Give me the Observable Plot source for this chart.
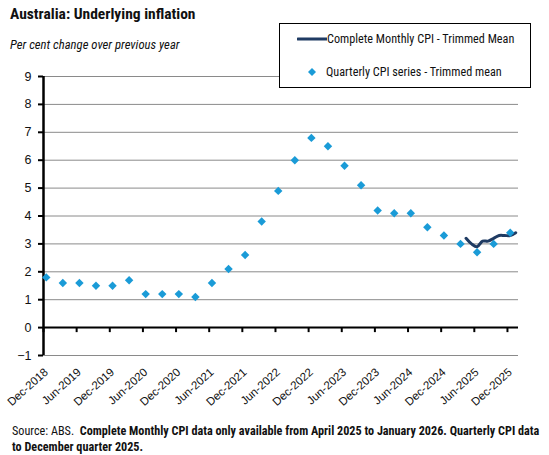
<!DOCTYPE html>
<html>
<head>
<meta charset="utf-8">
<script src="https://cdn.jsdelivr.net/npm/d3@7"></script>
<script src="https://cdn.jsdelivr.net/npm/@observablehq/plot@0.6"></script>
<style>
  html, body { margin: 0; padding: 0; background: #fff; }
  #wrap { position: relative; width: 549px; height: 455px; overflow: hidden; background:#fff; }
  .narrow { font-family: "Liberation Sans Narrow", "Arial Narrow", "Roboto Condensed", "Liberation Sans", sans-serif; }
  #title { position: absolute; left: 10px; top: 5px; font-size: 15.5px; font-weight: bold; color: #111; }
  #subtitle { position: absolute; left: 10px; top: 37px; font-size: 12.7px; font-style: italic; color: #111; }
  #chart { position: absolute; left: 0; top: 60px; }
  #legend { position: absolute; left: 279px; top: 23px; width: 250px; height: 63px; border: 1px solid #000; background: #fff; font-size: 12.2px; color: #111; }
  #legend .row { position: absolute; left: 0; display: flex; align-items: center; }
  .foot { position: absolute; left: 12px; font-size: 12.2px; line-height: 16px; color: #111; white-space: nowrap; }
</style>
</head>
<body>
<div id="wrap">
  <div id="chart"></div>
  <div id="title" class="narrow">Australia: Underlying inflation</div>
  <div id="subtitle" class="narrow">Per cent change over previous year</div>
  <div id="legend" class="narrow">
    <div class="row" style="top:7px;left:17px;"><svg width="30" height="16"><line x1="1" y1="8" x2="30" y2="8" stroke="#1f3b63" stroke-width="3" stroke-linecap="round"/></svg><span>Complete Monthly CPI - Trimmed Mean</span></div>
    <div class="row" style="top:40px;left:26px;"><svg width="20" height="16"><path d="M6,4 L10,8 L6,12 L2,8 Z" fill="#1a9bd7"/></svg><span>Quarterly CPI series - Trimmed mean</span></div>
  </div>
  <div class="foot narrow" style="top:423px;">Source: ABS.&nbsp; <b>Complete Monthly CPI data only available from April 2025 to January 2026. Quarterly CPI data</b></div>
  <div class="foot narrow" style="top:439px;"><b>to December quarter 2025.</b></div>
</div>
<script>
const quarters = ["Dec-2018","Mar-2019","Jun-2019","Sep-2019","Dec-2019","Mar-2020","Jun-2020","Sep-2020","Dec-2020","Mar-2021","Jun-2021","Sep-2021","Dec-2021","Mar-2022","Jun-2022","Sep-2022","Dec-2022","Mar-2023","Jun-2023","Sep-2023","Dec-2023","Mar-2024","Jun-2024","Sep-2024","Dec-2024","Mar-2025","Jun-2025","Sep-2025","Dec-2025"];
const quarterlyTrimmedMean = [1.8,1.6,1.6,1.5,1.5,1.7,1.2,1.2,1.2,1.1,1.6,2.1,2.6,3.8,4.9,6.0,6.8,6.5,5.8,5.1,4.2,4.1,4.1,3.6,3.3,3.0,2.7,3.0,3.4];
const months = ["Apr-2025","May-2025","Jun-2025","Jul-2025","Aug-2025","Sep-2025","Oct-2025","Nov-2025","Dec-2025","Jan-2026"];
const monthlyTrimmedMean = [3.2,3.0,2.9,3.1,3.1,3.2,3.3,3.3,3.3,3.4];
const xTickLabels = ["Dec-2018","Jun-2019","Dec-2019","Jun-2020","Dec-2020","Jun-2021","Dec-2021","Jun-2022","Dec-2022","Jun-2023","Dec-2023","Jun-2024","Dec-2024","Jun-2025","Dec-2025"];
const yTicks = [-1,0,1,2,3,4,5,6,7,8,9];

const parse = d3.utcParse("%b-%Y");
const origin = parse("Dec-2018");
const idx = s => d3.utcMonth.count(origin, parse(s));
const lastMonth = idx(months[months.length - 1]);

const qData = quarters.map((q, i) => ({x: idx(q), v: quarterlyTrimmedMean[i]}));
const mData = months.map((m, i) => ({x: idx(m), v: monthlyTrimmedMean[i]}));
const tickPos = xTickLabels.map(s => idx(s) - 0.5);
const labelPos = xTickLabels.map(s => idx(s));
const labelMap = new Map(labelPos.map((p, i) => [p, xTickLabels[i]]));

const chart = Plot.plot({
  width: 549,
  height: 360,
  marginTop: 16,
  marginBottom: 65,
  marginLeft: 43,
  marginRight: 31,
  style: {fontFamily: "'Liberation Sans', Arial, sans-serif", fontSize: "12px", color: "#111", background: "transparent", overflow: "visible"},
  x: {type: "linear", domain: [-0.5, lastMonth + 0.5], label: null},
  y: {domain: [-1, 9], label: null},
  marks: [
    Plot.gridY(yTicks, {stroke: "#8a8a8a", strokeOpacity: 1, strokeWidth: 1}),
    Plot.ruleY([0], {stroke: "#000", strokeWidth: 2}),
    Plot.ruleX(tickPos, {x: d => d, y1: 0, y2: -0.18, stroke: "#000", strokeWidth: 2}),
    Plot.ruleX([-0.5], {y1: -1, y2: 9, stroke: "#000", strokeWidth: 2.5}),
    Plot.axisY(yTicks, {tickSize: 5, tickPadding: 7, strokeWidth: 2, stroke: "#000", fontSize: 12.5, label: null}),
    Plot.axisX(labelPos, {anchor: "bottom", tickSize: 0, tickPadding: 15, tickRotate: -42, fontSize: 11.5, label: null, tickFormat: d => labelMap.get(d)}),
    Plot.line(mData, {x: "x", y: "v", stroke: "#1f3b63", strokeWidth: 3, curve: "catmull-rom"}),
    Plot.dot(qData, {x: "x", y: "v", symbol: "diamond2", r: 3.8, fill: "#1a9bd7", stroke: null})
  ]
});
document.getElementById("chart").appendChild(chart);
</script>
</body>
</html>
